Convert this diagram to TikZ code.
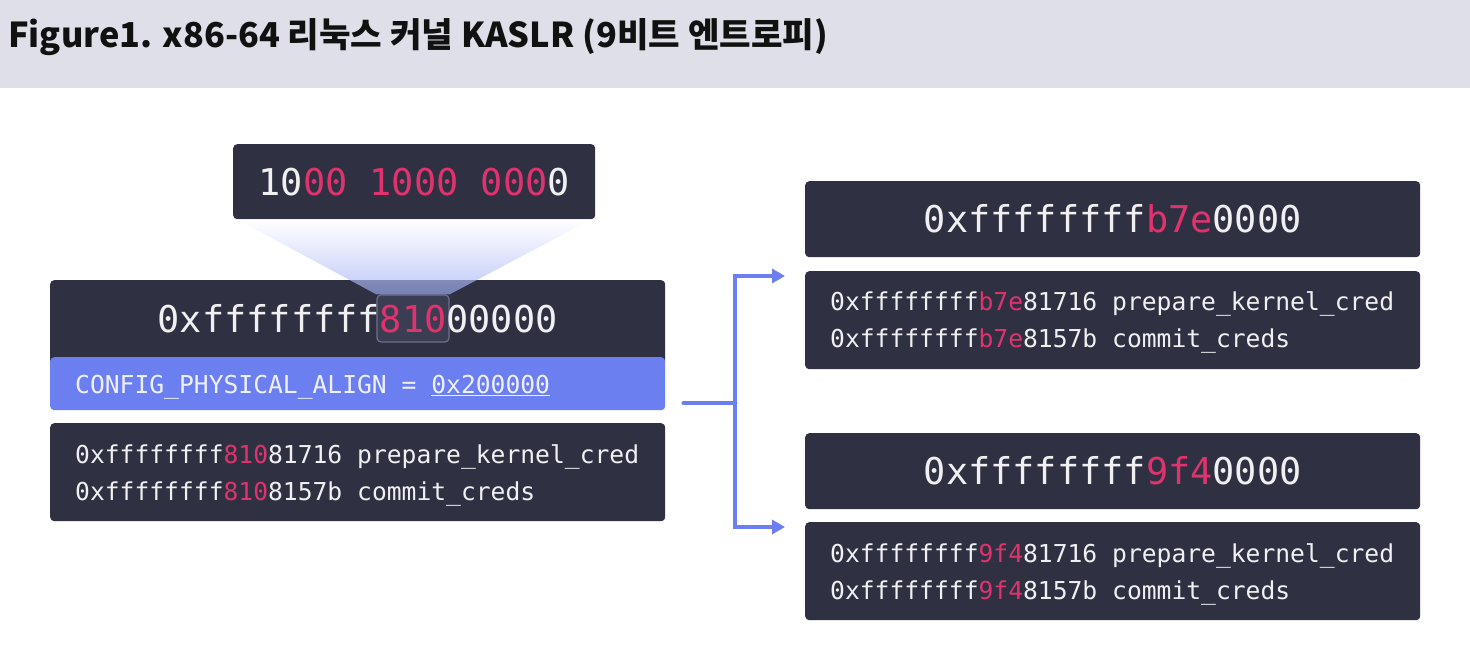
\documentclass[tikz,border=0pt]{standalone}
\usepackage{fontspec}
\setmonofont{DejaVu Sans Mono}
\newfontfamily\cjk{Noto Sans CJK KR}
\usepackage{tikz}
\usetikzlibrary{arrows.meta}
\definecolor{titlebg}{HTML}{DFDFE9}
\definecolor{titleink}{HTML}{111111}
\definecolor{boxdark}{HTML}{2F3142}
\definecolor{accent}{HTML}{6B7FF0}
\definecolor{hotpink}{HTML}{E0336E}
\definecolor{codewhite}{HTML}{F0F0F2}
\definecolor{cfgink}{HTML}{EEF0FF}
\definecolor{hlfill}{HTML}{3B3D52}
\definecolor{hlline}{HTML}{6E7088}
\newcommand\pk[1]{\textcolor{hotpink}{#1}}
\tikzset{
    dark-box/.style = {fill=boxdark, rounded corners=4pt, inner sep=0pt, minimum width=615pt, anchor=north west},
    big-code/.style = {font=\ttfamily\fontsize{36.9}{40}\selectfont, text=codewhite, inner sep=0pt},
    small-code/.style = {font=\ttfamily\fontsize{24.65}{30}\selectfont, text=codewhite, inner sep=0pt, anchor=base west},
    flow/.style = {draw=accent, line width=4pt},
    flow-tip/.style = {flow, -{Triangle[length=13pt,width=14pt]}},
}

\begin{document}
\begin{tikzpicture}[x=1pt, y=-1pt]
\useasboundingbox (0,0) rectangle (1470,652);
\fill[titlebg] (0,0) rectangle (1470,88);
\node[anchor=base west, inner sep=0pt, text=titleink, font=\cjk\bfseries\fontsize{34.3}{38}\selectfont] (title) at (8,48) {Figure1. x86-64 리눅스 커널 KASLR (9비트 엔트로피)};

% left: base address, alignment, symbols
\node[dark-box, minimum height=85pt] (addr) at (50,280) {};
\node[dark-box, minimum height=53pt, fill=accent] (cfg) at (50,357) {};
\node[dark-box, minimum height=98pt] (lbody) at (50,423) {};
\node[dark-box, big-code, minimum width=362pt, minimum height=75pt] (bits) at (233,144) {10\pk{00 1000 000}0};
\node[draw=hlline, fill=hlfill, line width=1.2pt, rounded corners=4pt, minimum width=72pt, minimum height=47pt] (zoomsrc) at (413,318.5) {};
\shade[top color=white, bottom color=accent!65, opacity=0.65] ([xshift=4pt]bits.south west) -- ([xshift=-4pt]bits.south east) -- (zoomsrc.north east) -- (zoomsrc.north west) -- cycle;
\node[big-code] (addrtxt) at ([yshift=4pt]addr.center) {0xffffffff\pk{810}00000};
\node[small-code, text=cfgink] (cfgtxt) at ([xshift=25pt,yshift=-36pt]cfg.north west) {CONFIG\_PHYSICAL\_ALIGN = \underline{0x200000}};
\node[small-code] (l1) at ([xshift=25pt,yshift=-40pt]lbody.north west) {0xffffffff\pk{810}81716 prepare\_kernel\_cred};
\node[small-code] (l2) at ([xshift=25pt,yshift=-77pt]lbody.north west) {0xffffffff\pk{810}8157b commit\_creds};

% right: two randomized bases
\node[dark-box, big-code, minimum width=615pt, minimum height=76pt] (r1head) at (805,181) {0xffffffff\pk{b7e}0000};
\node[dark-box, minimum height=98pt] (r1body) at (805,271) {};
\node[small-code] (r1a) at ([xshift=25pt,yshift=-40pt]r1body.north west) {0xffffffff\pk{b7e}81716 prepare\_kernel\_cred};
\node[small-code] (r1b) at ([xshift=25pt,yshift=-77pt]r1body.north west) {0xffffffff\pk{b7e}8157b commit\_creds};

\node[dark-box, big-code, minimum width=615pt, minimum height=76pt] (r2head) at (805,433) {0xffffffff\pk{9f4}0000};
\node[dark-box, minimum height=98pt] (r2body) at (805,522) {};
\node[small-code] (r2a) at ([xshift=25pt,yshift=-40pt]r2body.north west) {0xffffffff\pk{9f4}81716 prepare\_kernel\_cred};
\node[small-code] (r2b) at ([xshift=25pt,yshift=-77pt]r2body.north west) {0xffffffff\pk{9f4}8157b commit\_creds};

% arrows
\coordinate (src) at ([xshift=18pt,yshift=7pt]cfg.south east);
\coordinate (fork) at ([xshift=52pt]src);
\draw[flow, line cap=round] (src) -- (fork);
\draw[flow-tip] (fork) |- ([xshift=-20pt,yshift=-5pt]r1body.north west);
\draw[flow-tip] (fork) |- ([xshift=-20pt,yshift=-5pt]r2body.north west);
\end{tikzpicture}
\end{document}
